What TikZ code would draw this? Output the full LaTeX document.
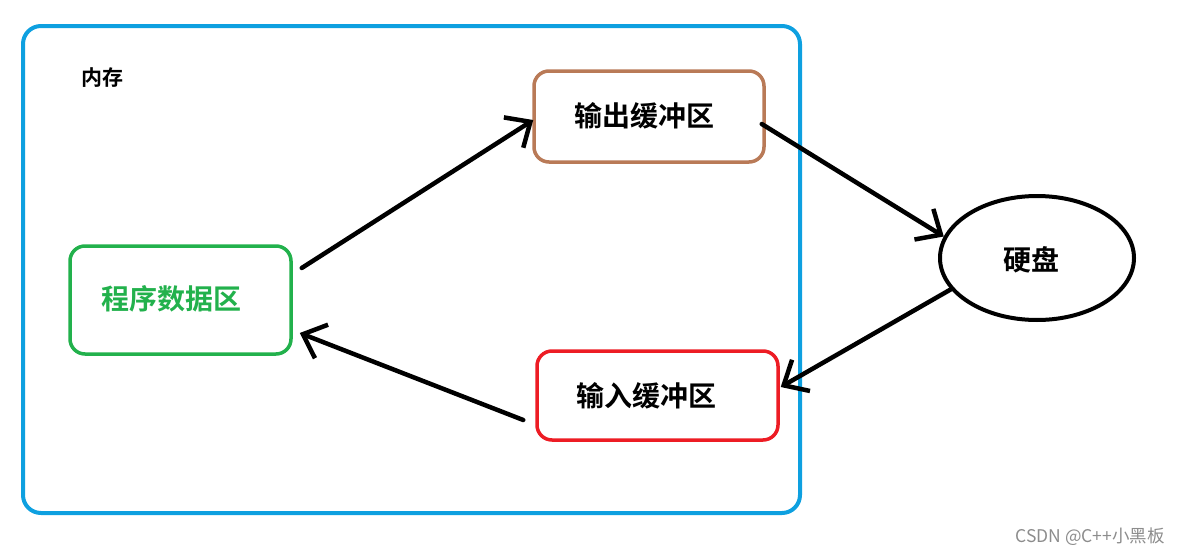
\documentclass[tikz,border=0pt]{standalone}
\usepackage{fontspec}
\newfontfamily\cjk{Noto Sans CJK SC}[BoldFont={Noto Sans CJK SC Bold}]
\usetikzlibrary{arrows.meta,calc,shapes.geometric}
\definecolor{memblue}{HTML}{0EA0E0}
\definecolor{pgreen}{HTML}{22B14C}
\definecolor{obrown}{HTML}{B97A57}
\definecolor{ired}{HTML}{ED1C24}
\begin{document}
\begin{tikzpicture}[x=1pt,y=-1pt,
  box/.style={draw,rounded corners=15pt,line width=3.5pt,inner sep=0pt},
  big/.style={font=\cjk\bfseries\fontsize{28}{32}\selectfont},
  flow/.style={line width=4.5pt,line cap=round,-{Straight Barb[length=20pt,width=36pt,line width=4.5pt]}}]
\useasboundingbox (0,0) rectangle (1181,554);
\node[draw=memblue,line width=4pt,rounded corners=18pt,minimum width=777pt,minimum height=487pt,inner sep=0pt] (mem) at (411.5,269.5) {};
\node[font=\cjk\bfseries\fontsize{21}{24}\selectfont] (memlbl) at (102,78) {内存};
\node[box,draw=pgreen,minimum width=221pt,minimum height=108pt,
  label={[big,text=pgreen,xshift=-9pt,yshift=1pt]center:程序数据区}] (prog) at (180.5,300) {};
\node[box,draw=obrown,minimum width=230pt,minimum height=91pt,
  label={[big,xshift=-5pt,yshift=1pt]center:输出缓冲区}] (out) at (649,116.5) {};
\node[box,draw=ired,minimum width=241pt,minimum height=89pt,
  label={[big,xshift=-11pt]center:输入缓冲区}] (in) at (657.5,395.5) {};
\node[draw,ellipse,line width=4pt,minimum width=194pt,minimum height=124pt,inner sep=0pt,
  label={[big,xshift=-6pt,yshift=-2pt]center:硬盘}] (disk) at (1037,258) {};
\draw[flow] ($(prog.east)+(9,-32)$) -- ($(out.west)+(1,3.5)$);
\draw[flow] ($(out.east)+(-4,7.5)$) -- (disk.167);
\draw[flow] (disk.200) -- ($(in.east)+(1,-8.5)$);
\draw[flow] ($(in.west)+(-12,24.5)$) -- ($(prog.east)+(7,33)$);
\node[text=black!45,font=\cjk\fontsize{17.5}{20}\selectfont] (mark) at (1090,537) {CSDN @C++小黑板};
\end{tikzpicture}
\end{document}
